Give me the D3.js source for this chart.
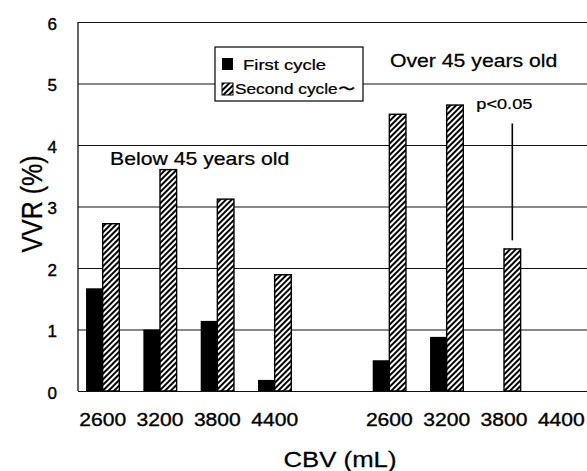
<!DOCTYPE html>
<html lang="en">
<head>
  <meta charset="UTF-8">
  <title>VVR by CBV</title>
</head>
<body style="margin:0;background:#fff">
<style>
  text { font-family: "Liberation Sans", Arial, sans-serif; fill: #000; }
</style>
<script src="https://d3js.org/d3.v7.min.js"></script>
<script>

  // data
  var categories = ["2600", "3200", "3800", "4400"];
  var groups = ["Below 45 years old", "Over 45 years old"];
  var seriesNames = ["First cycle", "Second cycle\u301C"];
  var firstBelow  = [1.67, 1.00, 1.14, 0.18];
  var secondBelow = [2.72, 3.60, 3.12, 1.89];
  var firstOver   = [0.50, 0.88, null, null];
  var secondOver  = [4.50, 4.65, 2.31, null];
  var yTicks = [0, 1, 2, 3, 4, 5, 6];
  var pLabel = "p<0.05";
  var pLine = [4.35, 2.45];   // vertical marker above 3800 (over 45), in % units

  var w = 587, h = 471;
  var plotLeft = 78, plotRight = 590, plotTop = 22, plotBottom = 391;

  // 4 categories, one empty slot, 4 categories
  var slots = [];
  categories.forEach(function (c) { slots.push("b" + c); });
  slots.push("gap");
  categories.forEach(function (c) { slots.push("o" + c); });

  var rows = [];
  categories.forEach(function (c, i) {
    rows.push({slot: "b" + c, first: firstBelow[i], second: secondBelow[i]});
    rows.push({slot: "o" + c, first: firstOver[i], second: secondOver[i]});
  });

  var x = d3.scaleBand()
          .domain(slots)
          .range([74, plotRight])
          .paddingInner(0.42)
          .paddingOuter(0.21);

  var xSub = d3.scaleBand()
          .domain(["first", "second"])
          .range([0, x.bandwidth()]);

  var y = d3.scaleLinear()
          .domain([0, 6])
          .range([plotBottom, plotTop]);

  var svg = d3.select("body")
          .append("svg")
          .attr("width", w)
          .attr("height", h);

  var defs = svg.append("defs");
  defs.append("pattern")
          .attr("id", "hatch")
          .attr("patternUnits", "userSpaceOnUse")
          .attr("width", 4)
          .attr("height", 4)
          .attr("patternTransform", "rotate(45)")
          .call(function (p) {
            p.append("rect").attr("width", 4).attr("height", 4).attr("fill", "#fff");
            p.append("line")
                    .attr("x1", 1).attr("y1", 0).attr("x2", 1).attr("y2", 4)
                    .attr("stroke", "#000").attr("stroke-width", 2);
          });

  // gridlines
  svg.append("g")
          .attr("transform", "translate(" + plotLeft + ",0)")
          .call(d3.axisLeft(y).tickValues(yTicks).tickSize(-(w - plotLeft)).tickFormat(""))
          .call(function (g) {
            g.select(".domain").remove();
            g.selectAll("line").attr("stroke", "#111").attr("stroke-width", 1.2);
          });

  // y axis line
  svg.append("line")
          .attr("x1", plotLeft).attr("x2", plotLeft)
          .attr("y1", y(0)).attr("y2", y(6))
          .attr("stroke", "#111").attr("stroke-width", 1.3);

  // y labels
  svg.append("g")
          .attr("transform", "translate(" + plotLeft + ",0)")
          .call(d3.axisLeft(y).tickValues(yTicks).tickSize(0).tickPadding(21).tickFormat(d3.format("d")))
          .call(function (g) {
            g.select(".domain").remove();
            g.selectAll("text")
                    .attr("font-size", 17)
                    .attr("font-family", "Liberation Sans, Arial, sans-serif")
                    .attr("stroke", "#000").attr("stroke-width", 0.4)
                    .attr("dy", "0.42em");
          });

  // bars
  var barG = svg.append("g");
  rows.forEach(function (r) {
    if (r.first != null) {
      barG.append("rect")
              .attr("x", x(r.slot) + xSub("first"))
              .attr("y", y(r.first))
              .attr("width", xSub.bandwidth())
              .attr("height", y(0) - y(r.first))
              .attr("fill", "#000");
    }
    if (r.second != null) {
      barG.append("rect")
              .attr("x", x(r.slot) + xSub("second"))
              .attr("y", y(r.second))
              .attr("width", xSub.bandwidth())
              .attr("height", y(0) - y(r.second))
              .attr("fill", "url(#hatch)")
              .attr("stroke", "#000")
              .attr("stroke-width", 1.4);
    }
  });

  // x labels
  svg.append("g")
          .attr("transform", "translate(0," + plotBottom + ")")
          .call(d3.axisBottom(x).tickSize(0).tickFormat(function (d) {
            return d == "gap" ? "" : d.slice(1);
          }))
          .call(function (g) {
            g.select(".domain").remove();
            g.selectAll("text")
                    .attr("y", 35)
                    .attr("dy", null)
                    .attr("font-size", 18.5)
                    .attr("font-family", "Liberation Sans, Arial, sans-serif")
                    .attr("stroke", "#000").attr("stroke-width", 0.35)
                    .attr("transform", "scale(1.14,1)");
          });

  // scanned text looks a bit wider than the font, so stretch horizontally
  function label(str, px, py, size, sx, anchor) {
    return svg.append("text")
            .attr("transform", "translate(" + px + "," + py + ") scale(" + sx + ",1)")
            .attr("font-size", size)
            .attr("text-anchor", anchor || "start")
            .attr("stroke", "#000").attr("stroke-width", 0.25)
            .text(str);
  }

  // legend
  var lg = svg.append("g");
  lg.append("rect")
          .attr("x", 215).attr("y", 47)
          .attr("width", 148).attr("height", 54)
          .attr("fill", "#fff")
          .attr("stroke", "#000").attr("stroke-width", 1.2);
  lg.append("rect").attr("x", 222).attr("y", 58).attr("width", 11).attr("height", 12).attr("fill", "#000");
  lg.append("rect").attr("x", 222).attr("y", 83).attr("width", 11).attr("height", 12)
          .attr("fill", "url(#hatch)").attr("stroke", "#000").attr("stroke-width", 1);
  label(seriesNames[0], 243, 69.5, 15.4, 1.2);
  label(seriesNames[1], 235, 94, 15, 1.15);

  // group labels
  label(groups[0], 110, 164.5, 18, 1.18);
  label(groups[1], 390, 66.5, 18.6, 1.14);

  // significance marker
  var px = x("o3800") + xSub("second") + xSub.bandwidth() / 2;
  svg.append("line")
          .attr("x1", px).attr("x2", px)
          .attr("y1", y(pLine[0])).attr("y2", y(pLine[1]))
          .attr("stroke", "#000").attr("stroke-width", 1.6);
  label(pLabel, px - 36, 108.5, 15.4, 1.18);

  // axis titles
  label("CBV (mL)", 340, 467, 22, 1.17, "middle");
  svg.append("text")
          .attr("transform", "translate(42,204) rotate(-90) scale(1,1.2)")
          .attr("font-size", 25)
          .attr("text-anchor", "middle")
          .attr("stroke", "#000").attr("stroke-width", 0.25)
          .text("VVR (%)");

</script>
</body>
</html>
